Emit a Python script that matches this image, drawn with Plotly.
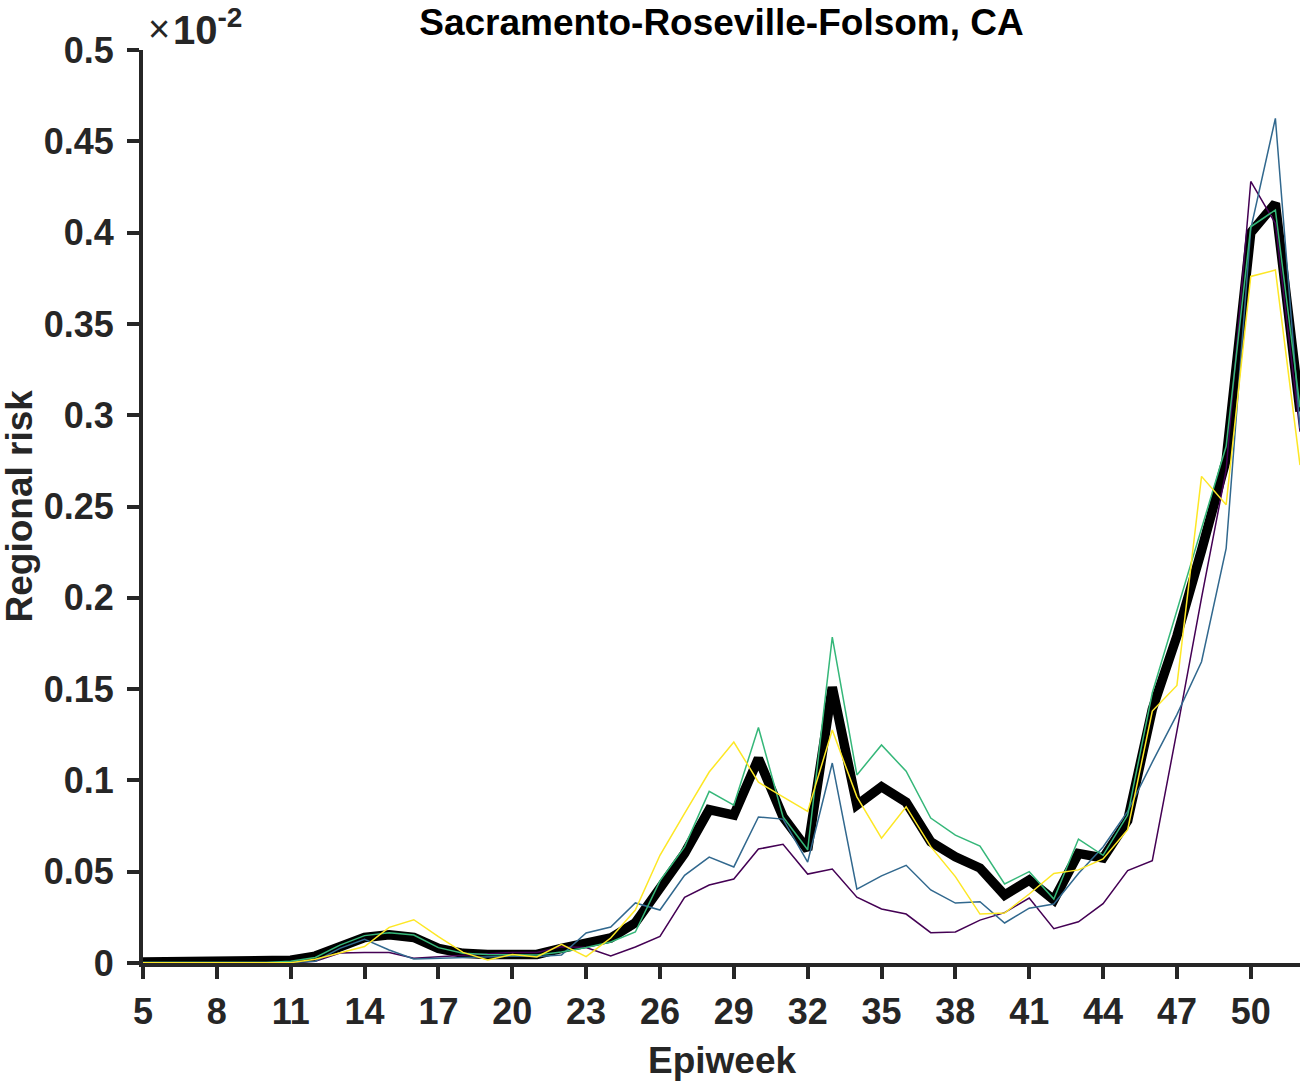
import plotly.graph_objects as go

# Epiweeks
weeks = list(range(5, 53))

# Regional risk values, in units of 1e-2 (axis shows x10^-2)
mean_risk = [0.0005, 0.0005, 0.0005, 0.0005, 0.0006, 0.0008, 0.0015, 0.0038, 0.0089, 0.014,
             0.0155, 0.014, 0.008, 0.0053, 0.0047, 0.0044, 0.0047, 0.008, 0.0105, 0.0137,
             0.022, 0.040, 0.060, 0.084, 0.081, 0.112, 0.080, 0.062, 0.151, 0.0865,
             0.0965, 0.088, 0.0664, 0.0582, 0.052, 0.0372, 0.0454, 0.0345, 0.060, 0.0575,
             0.078, 0.139, 0.179, 0.226, 0.2755, 0.400, 0.416, 0.302]

purple_risk = [0.0002, 0.0002, 0.0002, 0.0002, 0.0002, 0.0002, 0.0002, 0.001, 0.0055, 0.0058,
               0.0058, 0.0026, 0.0035, 0.0044, 0.0053, 0.0058, 0.0058, 0.0089, 0.0085, 0.0038,
               0.0088, 0.0146, 0.036, 0.0427, 0.046, 0.0624, 0.065, 0.0487, 0.0515, 0.036,
               0.0296, 0.0268, 0.0166, 0.017, 0.0235, 0.0276, 0.0356, 0.0188, 0.0226, 0.0325,
               0.0506, 0.056, 0.127, 0.200, 0.270, 0.428, 0.405, 0.291]

blue_risk = [0.0003, 0.0003, 0.0003, 0.0003, 0.0003, 0.0003, 0.0003, 0.001, 0.008, 0.013,
             0.0071, 0.0022, 0.0026, 0.003, 0.0035, 0.0038, 0.0035, 0.0044, 0.0164, 0.0197,
             0.0329, 0.029, 0.048, 0.058, 0.0526, 0.080, 0.0788, 0.0553, 0.1095, 0.0405,
             0.0477, 0.0535, 0.040, 0.0328, 0.0336, 0.0219, 0.030, 0.0323, 0.049, 0.0635,
             0.083, 0.110, 0.136, 0.165, 0.227, 0.402, 0.4626, 0.2928]

green_risk = [0.0003, 0.0003, 0.0003, 0.0003, 0.0003, 0.0003, 0.001, 0.003, 0.0098, 0.015,
              0.0166, 0.0153, 0.0084, 0.0053, 0.0047, 0.0044, 0.0044, 0.006, 0.0085, 0.0115,
              0.017, 0.045, 0.0636, 0.094, 0.0865, 0.129, 0.080, 0.062, 0.1785, 0.103,
              0.1194, 0.105, 0.0794, 0.070, 0.064, 0.0433, 0.050, 0.035, 0.0679, 0.059,
              0.081, 0.148, 0.193, 0.237, 0.283, 0.4032, 0.4124, 0.3043]

yellow_risk = [0.0002, 0.0002, 0.0002, 0.0002, 0.0002, 0.0002, 0.0002, 0.002, 0.0057, 0.009,
               0.0195, 0.0237, 0.0144, 0.0058, 0.0016, 0.0047, 0.0033, 0.0102, 0.0035, 0.0137,
               0.029, 0.059, 0.082, 0.1046, 0.121, 0.099, 0.091, 0.083, 0.1276, 0.091,
               0.0684, 0.0856, 0.0637, 0.0473, 0.0268, 0.0274, 0.0378, 0.049, 0.051, 0.057,
               0.073, 0.138, 0.152, 0.2665, 0.251, 0.376, 0.3795, 0.2727]

x_ticks = [5, 8, 11, 14, 17, 20, 23, 26, 29, 32, 35, 38, 41, 44, 47, 50]
y_ticks = [0, 0.05, 0.1, 0.15, 0.2, 0.25, 0.3, 0.35, 0.4, 0.45, 0.5]
y_tick_text = ["0", "0.05", "0.1", "0.15", "0.2", "0.25", "0.3", "0.35", "0.4", "0.45", "0.5"]

FONT = "Liberation Sans, Arial, Helvetica, sans-serif"
AX = "#262626"

fig = go.Figure()
fig.add_trace(go.Scatter(x=weeks, y=mean_risk, mode="lines",
                         line=dict(color="black", width=9.5), showlegend=False))
series = [(purple_risk, "#440154"), (blue_risk, "#31688e"),
          (green_risk, "#35b779"), (yellow_risk, "#fde725")]
for vals, col in series:
    fig.add_trace(go.Scatter(x=weeks, y=vals, mode="lines",
                             line=dict(color=col, width=1.5), showlegend=False))

fig.update_layout(
    width=1307, height=1083,
    paper_bgcolor="white", plot_bgcolor="white",
    margin=dict(l=143, r=7, t=50, b=120, autoexpand=False),
    font=dict(family=FONT, size=36, color=AX),
    title=dict(text="<b>Sacramento-Roseville-Folsom, CA</b>", x=0.5, xref="paper",
               y=1 - 22 / 1083, yref="container", yanchor="middle",
               font=dict(family=FONT, size=37, color="black")),
)
fig.update_xaxes(range=[5, 52], tickvals=x_ticks, ticks="outside", ticklen=12, tickwidth=4,
                 tickcolor=AX, showline=True, linecolor=AX, linewidth=4, showgrid=False,
                 zeroline=False, ticklabelstandoff=2,
                 tickfont=dict(family=FONT, size=36, color=AX, weight="bold"))
fig.update_yaxes(range=[0, 0.5], tickvals=y_ticks, ticktext=y_tick_text, ticks="outside",
                 ticklen=12, tickwidth=4, tickcolor=AX, showline=True, linecolor=AX,
                 linewidth=4, showgrid=False, zeroline=False, ticklabelstandoff=6,
                 tickfont=dict(family=FONT, size=36, color=AX, weight="bold"))

fig.add_annotation(text="<b>Epiweek</b>", xref="paper", yref="paper", x=0.5, y=0,
                   yshift=-97, yanchor="middle", showarrow=False,
                   font=dict(family=FONT, size=37, color=AX))
fig.add_annotation(text="<b>Regional risk</b>", xref="paper", yref="paper", x=0, y=0.5,
                   xshift=-124, xanchor="center", yanchor="middle", textangle=-90,
                   showarrow=False, font=dict(family=FONT, size=37, color=AX))
fig.add_annotation(text="×", xref="paper", yref="paper", x=0, y=1,
                   xshift=3, yshift=-2, xanchor="left", yanchor="bottom", showarrow=False,
                   font=dict(family=FONT, size=38, color=AX))
fig.add_annotation(text="<b>10<sup>-2</sup></b>", xref="paper", yref="paper", x=0, y=1,
                   xshift=28, yshift=-4, xanchor="left", yanchor="bottom", showarrow=False,
                   font=dict(family=FONT, size=40, color=AX))

fig.write_html("out.html", config={"displayModeBar": False},
               post_script="document.body.style.margin='0';document.body.style.padding='0';")
